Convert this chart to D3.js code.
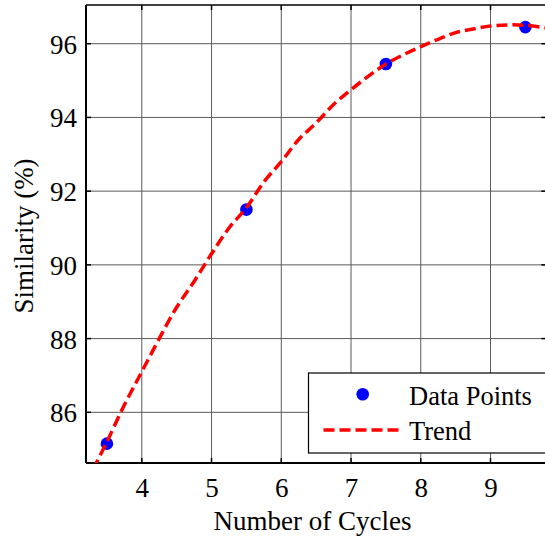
<!DOCTYPE html>
<html>
<head>
<meta charset="utf-8">
<script src="https://cdn.jsdelivr.net/npm/d3@7"></script>
<style>
  html, body { margin: 0; padding: 0; background: #fff; }
  svg { display: block; }
  text { font-family: "Liberation Serif", "Times New Roman", serif; fill: #000; }
</style>
</head>
<body>
<svg id="chart" width="545" height="539"></svg>
<script>
// Data
const pointX = [3.5, 5.5, 7.5, 9.5];
const pointY = [85.15, 91.5, 95.45, 96.45];
const trendX = [3.3, 3.5, 3.75, 4, 4.25, 4.5, 4.75, 5, 5.25, 5.5, 5.75, 6, 6.25, 6.5, 6.75, 7, 7.25, 7.5, 7.75, 8, 8.25, 8.5, 8.75, 9, 9.25, 9.5, 9.8];
const trendY = [84.45, 85.2, 86.2, 87.1, 88.0, 88.85, 89.55, 90.3, 91.0, 91.55, 92.25, 92.8, 93.4, 93.85, 94.35, 94.75, 95.12, 95.45, 95.7, 95.92, 96.12, 96.3, 96.4, 96.48, 96.51, 96.5, 96.43];
const xTicks = [4, 5, 6, 7, 8, 9];
const yTicks = [86, 88, 90, 92, 94, 96];
const legendLabels = ["Data Points", "Trend"];

const svg = d3.select("#chart");
const L = 86, R = 546.3, T = 5, B = 463;
const x = d3.scaleLinear().domain([3.2, 9.8]).range([L, R]);
const y = d3.scaleLinear().domain([84.625, 97.05]).range([B, T]);

svg.append("defs").append("clipPath").attr("id", "clip")
  .append("rect").attr("x", L).attr("y", T).attr("width", R - L).attr("height", B - T);

// grid
const grid = svg.append("g");
grid.selectAll(".gx").data(xTicks).join("line")
  .attr("x1", d => x(d)).attr("x2", d => x(d)).attr("y1", T).attr("y2", B)
  .attr("stroke", "#5a5a5a").attr("stroke-width", 1);
grid.selectAll(".gy").data(yTicks).join("line")
  .attr("y1", d => y(d)).attr("y2", d => y(d)).attr("x1", L).attr("x2", R)
  .attr("stroke", "#5a5a5a").attr("stroke-width", 1);

// axes
const xAxis = d3.axisBottom(x).tickValues(xTicks).tickSize(0).tickFormat(d3.format("d"));
const yAxis = d3.axisLeft(y).tickValues(yTicks).tickSize(0).tickPadding(9).tickFormat(d3.format("d"));
const gx = svg.append("g").attr("transform", `translate(0,${B})`).call(xAxis);
const gy = svg.append("g").attr("transform", `translate(${L},0)`).call(yAxis);
[gx, gy].forEach(g => {
  g.select(".domain").remove();
  g.selectAll("text").attr("font-size", 27).attr("font-family", "Liberation Serif");
});
gx.selectAll("text").attr("y", 34).attr("dy", 0);
gy.selectAll("text").attr("dy", "0.35em");

// inward tick marks (bottom, top, left, right)
const tk = svg.append("g").attr("stroke", "#000").attr("stroke-width", 1.5);
tk.selectAll(".tb").data(xTicks).join("line")
  .attr("x1", d => x(d)).attr("x2", d => x(d)).attr("y1", B).attr("y2", B - 5);
tk.selectAll(".tt").data(xTicks).join("line")
  .attr("x1", d => x(d)).attr("x2", d => x(d)).attr("y1", T).attr("y2", T + 5);
tk.selectAll(".tl").data(yTicks).join("line")
  .attr("y1", d => y(d)).attr("y2", d => y(d)).attr("x1", L).attr("x2", L + 5);
tk.selectAll(".tr").data(yTicks).join("line")
  .attr("y1", d => y(d)).attr("y2", d => y(d)).attr("x1", R).attr("x2", R - 5);

// box
svg.append("line").attr("x1", L).attr("x2", R).attr("y1", T).attr("y2", T).attr("stroke", "#000").attr("stroke-width", 1.5);
svg.append("line").attr("x1", L).attr("x2", R).attr("y1", B).attr("y2", B).attr("stroke", "#000").attr("stroke-width", 2);
svg.append("line").attr("x1", L).attr("x2", L).attr("y1", T).attr("y2", B).attr("stroke", "#000").attr("stroke-width", 2);

// data points
const pts = pointX.map((d, i) => [d, pointY[i]]);
svg.append("g").attr("clip-path", "url(#clip)").selectAll("circle").data(pts).join("circle")
  .attr("cx", d => x(d[0])).attr("cy", d => y(d[1])).attr("r", 6.3).attr("fill", "#0000ff");

// trend
const trend = trendX.map((d, i) => [d, trendY[i]]);
const line = d3.line().x(d => x(d[0])).y(d => y(d[1])).curve(d3.curveCatmullRom);
svg.append("path").attr("clip-path", "url(#clip)").datum(trend).attr("d", line)
  .attr("fill", "none").attr("stroke", "#ff0000").attr("stroke-width", 3.5).attr("stroke-dasharray", "11,5");

// axis labels
svg.append("text").attr("x", 312.5).attr("y", 530).attr("text-anchor", "middle")
  .attr("font-size", 27).text("Number of Cycles");
svg.append("text").attr("transform", "translate(32.5,236) rotate(-90)").attr("text-anchor", "middle")
  .attr("font-size", 27).text("Similarity (%)");

// legend
const lg = svg.append("g");
lg.append("rect").attr("x", 308.5).attr("y", 373).attr("width", 240).attr("height", 80)
  .attr("fill", "#fff").attr("stroke", "#000").attr("stroke-width", 1.2);
lg.append("circle").attr("cx", 362.7).attr("cy", 394.3).attr("r", 6.3).attr("fill", "#0000ff");
lg.append("line").attr("x1", 323.5).attr("x2", 400).attr("y1", 430).attr("y2", 430)
  .attr("stroke", "#ff0000").attr("stroke-width", 3.5).attr("stroke-dasharray", "11,5");
lg.selectAll("text").data(legendLabels).join("text")
  .attr("x", 409).attr("y", (d, i) => 405 + i * 35).attr("font-size", 26.5).text(d => d);
</script>
</body>
</html>
